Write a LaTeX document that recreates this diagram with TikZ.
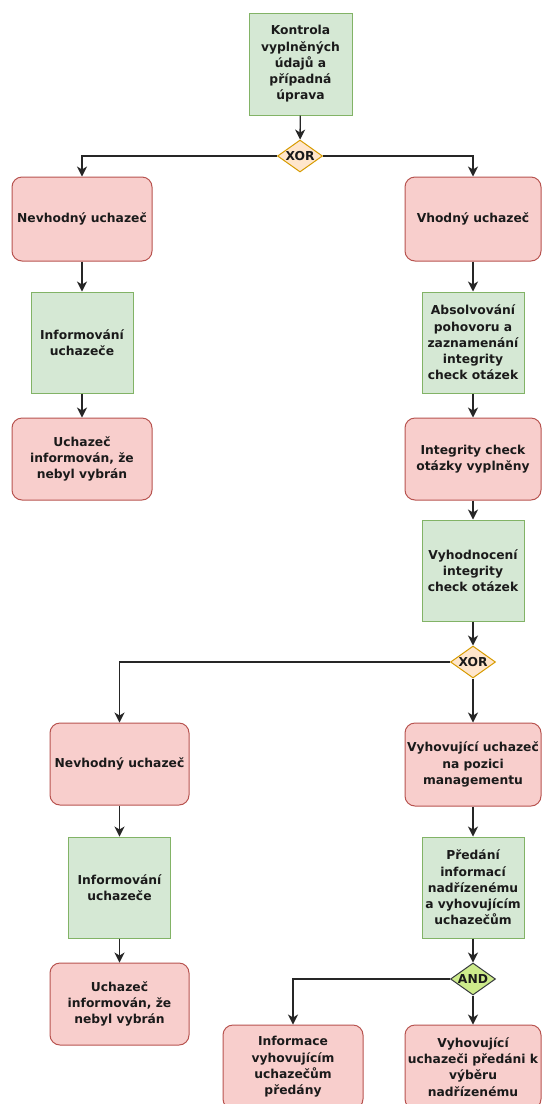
\documentclass[tikz,border=0pt]{standalone}
\usepackage{fontspec}
\setmainfont{DejaVu Sans}
\usetikzlibrary{shapes.geometric,arrows.meta}
\definecolor{redfill}{HTML}{F8CECC}
\definecolor{redline}{HTML}{B85450}
\definecolor{greenfill}{HTML}{D5E8D4}
\definecolor{greenline}{HTML}{82B366}
\definecolor{xorfill}{HTML}{FFE6CC}
\definecolor{xorline}{HTML}{D79B00}
\definecolor{andfill}{HTML}{CDEB8B}
\definecolor{andline}{HTML}{36393D}
\definecolor{txt}{HTML}{1A1A1A}
\tikzset{
  base/.style={align=center, inner sep=1pt, text=txt, line width=1pt,
    font=\fontsize{12.3}{16.3}\selectfont\bfseries},
  redbox/.style={base, rectangle, rounded corners=10pt, fill=redfill, draw=redline,
    minimum width=138pt, minimum height=84pt},
  greenbox/.style={base, rectangle, fill=greenfill, draw=greenline,
    minimum width=102pt, minimum height=101pt},
  gate/.style={diamond, line width=1pt, minimum width=45pt, minimum height=32pt, inner sep=0pt},
  xorgate/.style={gate, fill=xorfill, draw=xorline},
  andgate/.style={gate, fill=andfill, draw=andline},
  gatetext/.style={text=txt, font=\fontsize{12.3}{16}\selectfont\bfseries, inner sep=0pt},
  arr/.style={draw=black!85, line width=1.3pt, -{Stealth[length=10pt,width=10pt,inset=3pt]}},
}
\begin{document}
\begin{tikzpicture}[x=1pt,y=-1pt]
\clip (0,0) rectangle (542,1104);
\fill[white] (0,0) rectangle (542,1104);
% top
\node[greenbox, minimum width=103pt, minimum height=102pt] (top) at (300.5,64) {Kontrola\\vyplněných\\údajů a\\případná\\úprava};
\node[xorgate] (x1) at (300,156) {};
\node[gatetext] (x1t) at (x1.center) {XOR};
% left first branch
\node[redbox, minimum width=140pt] (nl1) at (82,219) {Nevhodný uchazeč};
\node[greenbox] (inf1) at (82,342.5) {Informování\\uchazeče};
\node[redbox, minimum width=140pt, minimum height=82pt] (uch1) at (82,459) {Uchazeč\\informován, že\\nebyl vybrán};
% right first branch
\node[redbox, minimum width=136pt] (vh1) at (473,219) {Vhodný uchazeč};
\node[greenbox] (abs) at (473,342.5) {Absolvování\\pohovoru a\\zaznamenání\\integrity\\check otázek};
\node[redbox, minimum width=136pt, minimum height=82pt] (ic) at (473,459) {Integrity check\\otázky vyplněny};
\node[greenbox] (vyh) at (473,570.5) {Vyhodnocení\\integrity\\check otázek};
\node[xorgate] (x2) at (473,662) {};
\node[gatetext] (x2t) at (x2.center) {XOR};
% second left
\node[redbox, minimum width=139pt, minimum height=82pt] (nl2) at (119.5,764) {Nevhodný uchazeč};
\node[greenbox] (inf2) at (119.5,887.5) {Informování\\uchazeče};
\node[redbox, minimum width=139pt, minimum height=82pt] (uch2) at (119.5,1004) {Uchazeč\\informován, že\\nebyl vybrán};
% second right
\node[redbox, minimum width=136pt, minimum height=83pt] (vym) at (473,764.5) {Vyhovující uchazeč\\na pozici\\managementu};
\node[greenbox] (pred) at (473,887.5) {Předání\\informací\\nadřízenému\\a vyhovujícím\\uchazečům};
\node[andgate] (and) at (473,979) {};
\node[gatetext] (andt) at (and.center) {AND};
\node[redbox, minimum width=140pt] (infm) at (293,1067) {Informace\\vyhovujícím\\uchazečům\\předány};
\node[redbox, minimum width=136pt] (vyb) at (473,1067) {Vyhovující\\uchazeči předáni k\\výběru\\nadřízenému};
% connectors
\draw[arr] (top) -- (x1);
\draw[arr] (x1.west) -| (nl1.north);
\draw[arr] (x1.east) -| (vh1.north);
\draw[arr] (nl1) -- (inf1);
\draw[arr] (inf1) -- (uch1);
\draw[arr] (vh1) -- (abs);
\draw[arr] (abs) -- (ic);
\draw[arr] (ic) -- (vyh);
\draw[arr] (vyh) -- (x2);
\draw[arr] (x2.west) -| (nl2.north);
\draw[arr] (x2.south) -- (vym.north);
\draw[arr] (nl2) -- (inf2);
\draw[arr] (inf2) -- (uch2);
\draw[arr] (vym) -- (pred);
\draw[arr] (pred) -- (and);
\draw[arr] (and.west) -| (infm.north);
\draw[arr] (and.south) -- (vyb.north);
\end{tikzpicture}
\end{document}
